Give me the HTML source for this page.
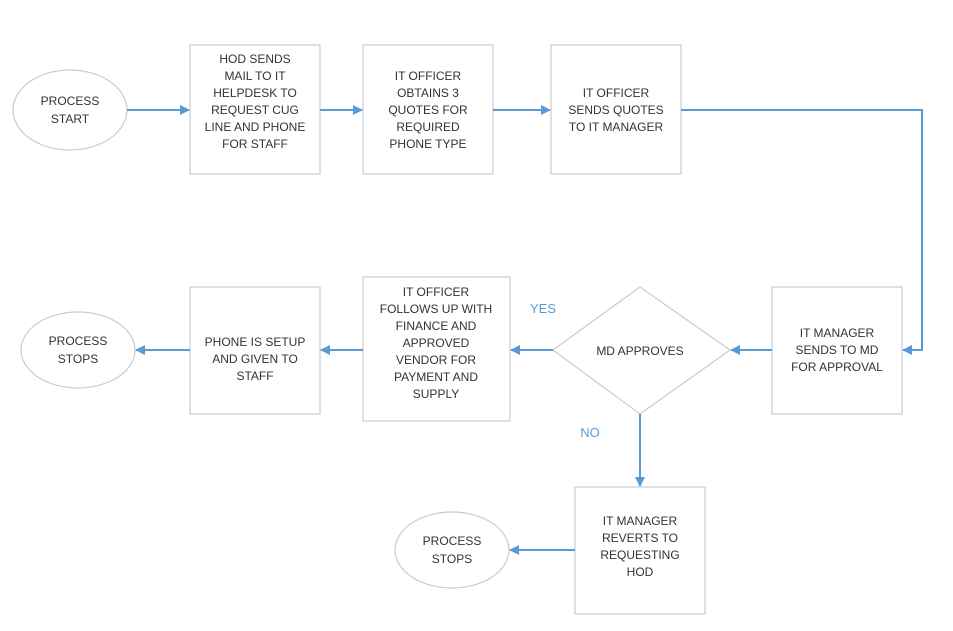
<!DOCTYPE html>
<html><head><style>
html,body{margin:0;padding:0;background:#fff;}
svg text{font-family:"Liberation Sans",sans-serif;font-size:12px;fill:#333;text-anchor:middle;}
</style></head><body>
<svg width="953" height="626" xmlns="http://www.w3.org/2000/svg">
<defs><marker id="a" markerWidth="10" markerHeight="10" refX="9" refY="5" orient="auto" markerUnits="userSpaceOnUse"><path d="M0,0 L10,5 L0,10 z" fill="#5b9bd5"/></marker></defs>
<g fill="#fff" stroke="#c8ccd2" stroke-width="1.2">
<ellipse cx="70" cy="110" rx="57" ry="40"/>
<rect x="190" y="45" width="130" height="129"/>
<rect x="363" y="45" width="130" height="129"/>
<rect x="551" y="45" width="130" height="129"/>
<rect x="772" y="287" width="130" height="127"/>
<polygon points="553,350 640,287 730,350 640,414"/>
<rect x="363" y="277" width="147" height="144"/>
<rect x="190" y="287" width="130" height="127"/>
<ellipse cx="78" cy="350" rx="57" ry="38"/>
<rect x="575" y="487" width="130" height="127"/>
<ellipse cx="452" cy="550" rx="57" ry="38"/>
</g>
<g stroke="#5b9bd5" stroke-width="2" fill="none" marker-end="url(#a)">
<line x1="127" y1="110" x2="189" y2="110"/>
<line x1="320" y1="110" x2="362" y2="110"/>
<line x1="493" y1="110" x2="550" y2="110"/>
<polyline points="681,110 922,110 922,350 903,350"/>
<line x1="772" y1="350" x2="731" y2="350"/>
<line x1="553" y1="350" x2="511" y2="350"/>
<line x1="363" y1="350" x2="321" y2="350"/>
<line x1="190" y1="350" x2="136" y2="350"/>
<line x1="640" y1="414" x2="640" y2="486"/>
<line x1="575" y1="550" x2="510" y2="550"/>
</g>
<text x="70" y="105">PROCESS</text><text x="70" y="123">START</text>
<text x="255" y="63">HOD SENDS</text><text x="255" y="80">MAIL TO IT</text><text x="255" y="97">HELPDESK TO</text><text x="255" y="114">REQUEST CUG</text><text x="255" y="131">LINE AND PHONE</text><text x="255" y="148">FOR STAFF</text>
<text x="428" y="80">IT OFFICER</text><text x="428" y="97">OBTAINS 3</text><text x="428" y="114">QUOTES FOR</text><text x="428" y="131">REQUIRED</text><text x="428" y="148">PHONE TYPE</text>
<text x="616" y="97">IT OFFICER</text><text x="616" y="114">SENDS QUOTES</text><text x="616" y="131">TO IT MANAGER</text>
<text x="837" y="337">IT MANAGER</text><text x="837" y="354">SENDS TO MD</text><text x="837" y="371">FOR APPROVAL</text>
<text x="640" y="355">MD APPROVES</text>
<text x="436" y="296">IT OFFICER</text><text x="436" y="313">FOLLOWS UP WITH</text><text x="436" y="330">FINANCE AND</text><text x="436" y="347">APPROVED</text><text x="436" y="364">VENDOR FOR</text><text x="436" y="381">PAYMENT AND</text><text x="436" y="398">SUPPLY</text>
<text x="255" y="346">PHONE IS SETUP</text><text x="255" y="363">AND GIVEN TO</text><text x="255" y="380">STAFF</text>
<text x="78" y="345">PROCESS</text><text x="78" y="363">STOPS</text>
<text x="640" y="525">IT MANAGER</text><text x="640" y="542">REVERTS TO</text><text x="640" y="559">REQUESTING</text><text x="640" y="576">HOD</text>
<text x="452" y="545">PROCESS</text><text x="452" y="563">STOPS</text>
<text x="543" y="313" style="fill:#5b9bd5;font-size:13px">YES</text>
<text x="590" y="437" style="fill:#5b9bd5;font-size:13px">NO</text>
</svg>
</body></html>
